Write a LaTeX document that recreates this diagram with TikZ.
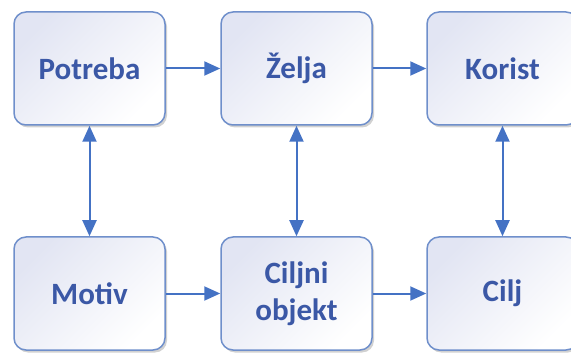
\documentclass[tikz,border=0pt]{standalone}
\usepackage{fontspec}
\setmainfont{Carlito}
\usetikzlibrary{arrows.meta,shadows}
\definecolor{txtblue}{HTML}{3B58A6}
\definecolor{edgeblue}{HTML}{6F8FCB}
\definecolor{arrblue}{HTML}{4472C4}
\definecolor{lav}{HTML}{E2E5F3}
\tikzset{
  box/.style={rectangle, rounded corners=12pt, draw=edgeblue, line width=1.5pt,
    minimum width=151pt, minimum height=113pt, inner sep=0pt, align=center,
    top color=lav, bottom color=white, shading angle=45,
    text=txtblue, font=\fontsize{31}{37}\selectfont\bfseries,
    drop shadow={shadow xshift=2pt, shadow yshift=-2.5pt, opacity=0.3, fill=black!60}},
  arr/.style={draw=arrblue, line width=2pt, -{Triangle[width=14pt,length=16pt]}},
  darr/.style={draw=arrblue, line width=2pt, {Triangle[width=14pt,length=16pt]}-{Triangle[width=14pt,length=16pt]}}
}
\begin{document}
\begin{tikzpicture}[x=1pt,y=1pt]
\useasboundingbox (0,0) rectangle (571,354);
\node[box] (potreba) at (89.5,285.5) {Potreba};
\node[box] (zelja) at (296.5,285.5) {Želja};
\node[box] (korist) at (502.5,285.5) {Korist};
\node[box] (motiv) at (89.5,60.5) {Motiv};
\node[box] (objekt) at (296.5,60.5) {Ciljni\\objekt};
\node[box] (cilj) at (502.5,60.5) {Cilj};
\draw[arr] (potreba) -- (zelja);
\draw[arr] (zelja) -- (korist);
\draw[arr] (motiv) -- (objekt);
\draw[arr] (objekt) -- (cilj);
\draw[darr] (potreba) -- (motiv);
\draw[darr] (zelja) -- (objekt);
\draw[darr] (korist) -- (cilj);
\end{tikzpicture}
\end{document}
